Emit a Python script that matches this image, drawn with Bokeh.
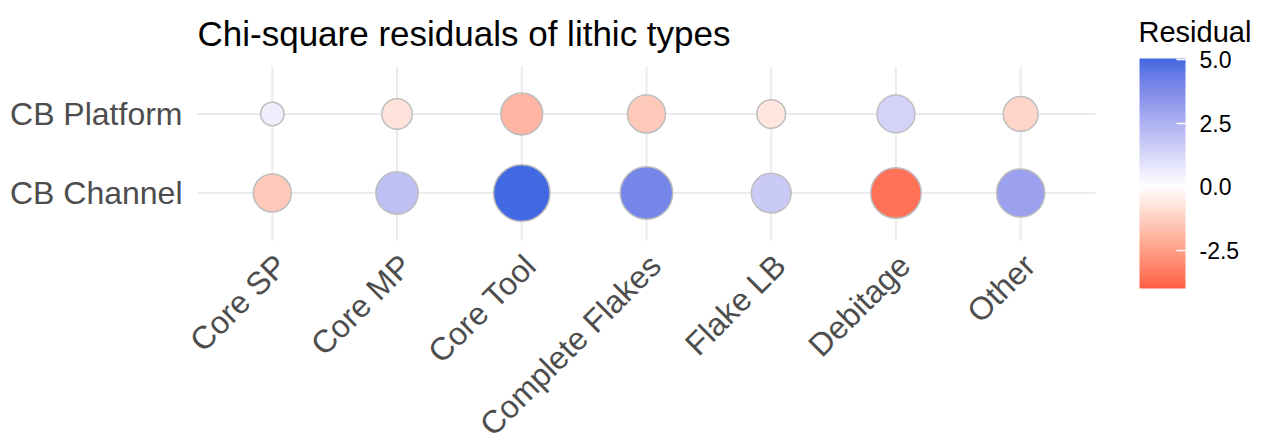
import math
from bokeh.plotting import figure
from bokeh.models import (Range1d, FixedTicker, ColumnDataSource, LinearColorMapper,
                          ColorBar, PrintfTickFormatter, LabelSet, Label)
from bokeh.core.properties import value
from bokeh.embed import file_html
from bokeh.resources import INLINE

# ---------------- data ----------------
categories = ["Core SP", "Core MP", "Core Tool", "Complete Flakes", "Flake LB", "Debitage", "Other"]
sites = ["CB Channel", "CB Platform"]
resid_platform = [0.55, -0.75, -1.95, -1.42, -0.66, 1.40, -1.08]
resid_channel = [-1.42, 2.02, 5.04, 4.00, 1.65, -3.55, 3.05]
legend_ticks = [-2.5, 0.0, 2.5, 5.0]
color_limits = [-4.0, 5.04]
title_text = "Chi-square residuals of lithic types"
legend_title = "Residual"

# ---------------- colour scale (Lab interpolation low-white-high) ----------------
LOW_COL, MID_COL, HIGH_COL = "#FF5E44", "#FFFFFF", "#4169E1"


def _to_lin(c):
    c = c / 255.0
    return c / 12.92 if c <= 0.04045 else ((c + 0.055) / 1.055) ** 2.4


def _from_lin(c):
    v = 12.92 * c if c <= 0.0031308 else 1.055 * (max(c, 0) ** (1 / 2.4)) - 0.055
    return int(max(0, min(255, round(v * 255))))


def hex_to_lab(h):
    r, g, b = (_to_lin(int(h[i:i + 2], 16)) for i in (1, 3, 5))
    X = (0.4124 * r + 0.3576 * g + 0.1805 * b) / 0.95047
    Y = 0.2126 * r + 0.7152 * g + 0.0722 * b
    Z = (0.0193 * r + 0.1192 * g + 0.9505 * b) / 1.08883
    f = lambda t: t ** (1 / 3) if t > 0.008856 else 7.787 * t + 16 / 116
    fx, fy, fz = f(X), f(Y), f(Z)
    return (116 * fy - 16, 500 * (fx - fy), 200 * (fy - fz))


def lab_to_hex(L, a, b):
    fy = (L + 16) / 116
    fx = fy + a / 500
    fz = fy - b / 200
    finv = lambda t: t ** 3 if t ** 3 > 0.008856 else (t - 16 / 116) / 7.787
    X, Y, Z = finv(fx) * 0.95047, finv(fy), finv(fz) * 1.08883
    r = 3.2406 * X - 1.5372 * Y - 0.4986 * Z
    g = -0.9689 * X + 1.8758 * Y + 0.0415 * Z
    bb = 0.0557 * X - 0.2040 * Y + 1.0570 * Z
    return "#%02X%02X%02X" % (_from_lin(r), _from_lin(g), _from_lin(bb))


lab_low, lab_mid, lab_high = hex_to_lab(LOW_COL), hex_to_lab(MID_COL), hex_to_lab(HIGH_COL)


def scale_colour(v):
    if v < 0:
        t = min(1.0, v / color_limits[0])
        end = lab_low
    else:
        t = min(1.0, v / color_limits[1])
        end = lab_high
    return lab_to_hex(*[m + (e - m) * t for m, e in zip(lab_mid, end)])


N = 256
palette = [scale_colour(color_limits[0] + (i + 0.5) * (color_limits[1] - color_limits[0]) / N)
           for i in range(N)]
mapper = LinearColorMapper(palette=palette, low=color_limits[0], high=color_limits[1])

# ---------------- long table ----------------
xs, ys, vals = [], [], []
for i, c in enumerate(categories):
    xs += [i, i]
    ys += [sites.index("CB Platform"), sites.index("CB Channel")]
    vals += [resid_platform[i], resid_channel[i]]
absv = [abs(v) for v in vals]
amin, amax = min(absv), max(absv)
DMIN, DMAX = 23.5, 56.5
sizes = [DMIN + (DMAX - DMIN) * math.sqrt((a - amin) / (amax - amin)) for a in absv]
src = ColumnDataSource(dict(x=xs, y=ys, val=vals, size=sizes))

# ---------------- layout geometry (pixels) ----------------
W, H = 1260, 433
FRAME_L = 182                               # drawing area starts a bit left of the panel
PANEL_L, PANEL_R, PANEL_T, PANEL_B = 197, 1095, 66, 240
EXP = 0.6                                   # discrete-axis expansion
nx, ny = len(categories), len(sites)
sx = (PANEL_R - PANEL_L) / (nx - 1 + 2 * EXP)
sy = (PANEL_B - PANEL_T) / (ny - 1 + 2 * EXP)
x0 = -EXP - (PANEL_L - FRAME_L) / sx
x1 = -EXP + (W - PANEL_L) / sx
y0, y1 = -EXP - (H - PANEL_B) / sy, (ny - 1 + EXP) + PANEL_T / sy


def px2x(px):
    return -EXP + (px - PANEL_L) / sx


def px2y(py):
    return y1 - py / sy


FONT = "Liberation Sans"
p = figure(width=W, height=H, x_range=Range1d(x0, x1), y_range=Range1d(y0, y1),
           output_backend="svg", toolbar_location=None,
           min_border_left=FRAME_L, min_border_right=0,
           min_border_top=0, min_border_bottom=0)
p.title.visible = False
p.outline_line_color = None
p.background_fill_color = "white"
p.grid.visible = False
p.xaxis.visible = False

ya = p.yaxis[0]
ya.ticker = FixedTicker(ticks=list(range(ny)))
ya.major_label_overrides = {i: s for i, s in enumerate(sites)}
ya.major_label_standoff = 15 - (PANEL_L - FRAME_L)
ya.axis_line_color = None
ya.major_tick_line_color = None
ya.minor_tick_line_color = None
ya.major_tick_out = 0
ya.major_tick_in = 0
ya.major_label_text_font = FONT
ya.major_label_text_font_size = "32px"
ya.major_label_text_color = "#4D4D4D"

# panel grid lines (only inside the data panel)
GRID = dict(line_color="#EBEBEB", line_width=2)
xi = list(range(nx))
p.segment(x0=xi, x1=xi, y0=[-EXP] * nx, y1=[ny - 1 + EXP] * nx, **GRID)
yj = list(range(ny))
p.segment(x0=[-EXP] * ny, x1=[nx - 1 + EXP] * ny, y0=yj, y1=yj, **GRID)

p.scatter("x", "y", size="size", source=src,
          fill_color={"field": "val", "transform": mapper},
          line_color="#BDBDBD", line_width=1.5)

# rotated category labels under the panel
xlab_src = ColumnDataSource(dict(x=xi, y=[-EXP] * nx, text=categories))
p.add_layout(LabelSet(x="x", y="y", text="text", source=xlab_src,
                      angle=math.pi / 4, text_align="right", text_baseline="top",
                      x_offset=-4, y_offset=-7,
                      text_font=value(FONT), text_font_size="32px", text_color="#4D4D4D"))

# title
p.add_layout(Label(x=px2x(197), y=px2y(33), text=title_text,
                   text_font=FONT, text_font_size="35px", text_color="black",
                   text_align="left", text_baseline="alphabetic"))

# colour legend
cb = ColorBar(color_mapper=mapper, width=46, height=230,
              ticker=FixedTicker(ticks=legend_ticks),
              formatter=PrintfTickFormatter(format="%.1f"),
              major_label_text_font=FONT, major_label_text_font_size="23px",
              major_label_text_color="black", label_standoff=14,
              major_tick_line_color="white", major_tick_in=9, major_tick_out=0,
              major_tick_line_width=1.5,
              bar_line_color=None, border_line_color=None, background_fill_color=None,
              padding=0, margin=0, location=(1139 - FRAME_L, H - 288))
p.add_layout(cb, "center")
p.add_layout(Label(x=px2x(1138), y=px2y(31), text=legend_title,
                   text_font=FONT, text_font_size="29px", text_color="black",
                   text_align="left", text_baseline="alphabetic"))

open("out.html", "w").write(file_html(p, INLINE))
